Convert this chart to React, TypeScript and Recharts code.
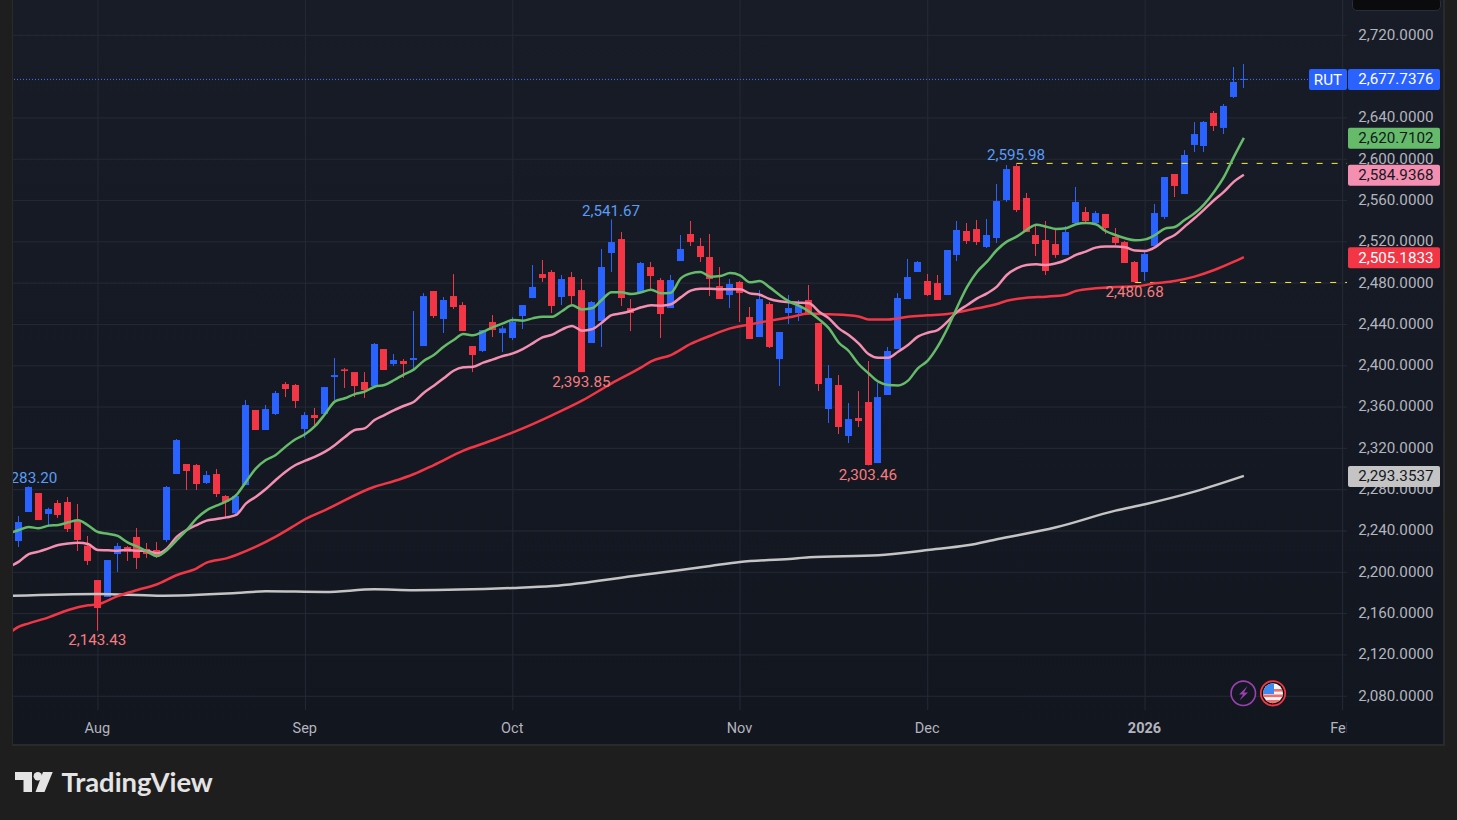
import React from "react";
import {
  ComposedChart, Bar, Line, XAxis, YAxis, CartesianGrid, ReferenceLine, ReferenceDot,
} from "recharts";

const highs = [2254.5,2283.2,2276.8,2262.6,2270,2272.9,2266.1,2235.2,2192.5,2211.9,2228.4,2225.5,2242.9,2228.4,2229.3,2283.6,2329.1,2304.9,2304.9,2298.1,2300,2274.8,2275.8,2366.9,2357.2,2362,2375.6,2384.3,2382.3,2355.2,2359.1,2379.4,
2407.5,2397.8,2393.9,2393.9,2422,2416.2,2411.4,2406.5,2453,2470.4,2472.4,2466.6,2488.8,2461.7,2419.1,2434.6,2449.1,2438.5,2447.2,2458.8,2497.6,2502.4,2492.7,2487.9,2490.8,2484,2462.7,2513.1,2541.67,2529.5,
2464.6,2500.5,2500.5,2485,2487.9,2526.6,2540.2,2523.7,2527.6,2495.6,2484,2482.1,2456.9,2473.3,2461.7,2432.7,2468.5,2463.7,2478.2,2441.4,2400.7,2391,2363.9,2375.5,2404.6,2383.3,2418.2,2470.4,2503.4,2501.4,
2488.9,2487.9,2512.1,2540.2,2538.2,2541.1,2542.1,2576,2594.4,2595.98,2567.3,2536.3,2540.2,2531.5,2535.3,2573.1,2553.7,2549.9,2547,2533.4,2520.8,2501.4,2510.2,2556.6,2582.8,2585.7,2608.9,2636,2637,2646.7,2653.5,2689.3,2692.2];
const lows = [2224.5,2258.4,2250.6,2243.9,2252.6,2239,2220.6,2207.1,2143.43,2176.1,2200.3,2211,2203.2,2213.9,2213.9,2229.3,2295.2,2279.7,2279.7,2285.5,2272.9,2252.6,2254.5,2284.5,2337.8,2337.8,2352.3,2369.7,2359.1,2330,2340.7,2353.3,
2366.8,2378.5,2369.7,2368.8,2380.4,2395.9,2399.8,2388.1,2395.9,2419.1,2446.2,2431.7,2455,2433.6,2393.9,2413.3,2427.8,2413.3,2424.9,2435.6,2465.6,2481.1,2451.1,2458.8,2459.8,2393.85,2422,2418.2,2490.8,2457.9,
2433.6,2470.4,2474.3,2426.9,2455.9,2501.4,2516,2500.5,2467.5,2464.6,2455.9,2442.4,2425.9,2427.8,2417.2,2380.4,2440.4,2443.3,2449.1,2375.5,2344.6,2333.9,2325.2,2340.7,2303.46,2305.8,2371.7,2416.2,2464.6,2490.8,
2467.6,2463.7,2468.5,2501.4,2517.9,2516.9,2514,2518.9,2558.6,2548.9,2529.5,2506.3,2487.9,2504.4,2507.3,2538.2,2538.2,2538.2,2527.6,2516.9,2499.5,2480.68,2482.1,2516,2542.1,2563.4,2566.3,2607,2607,2627.3,2624.4,2659.3,2669];
const opens = [2230.3,2258.4,2276.8,2256.5,2267.1,2268.1,2249.7,2225.8,2192.5,2176.1,2217.7,2224.5,2234.2,2222.6,2221.6,2231.3,2295.2,2304.9,2303.9,2286.5,2295.2,2273.9,2257.1,2284.5,2357.2,2337.8,2353.3,2382.3,2381.4,2338.8,2352.3,2353.3,
2389.1,2396.5,2393.9,2384.3,2380.4,2416.2,2401.7,2404.6,2405.6,2419.1,2472.4,2445.3,2467.5,2458.8,2419.1,2414.3,2442.4,2431.7,2426.9,2448.2,2465.6,2488.8,2490.8,2466.6,2485.9,2473.3,2422,2443.3,2509.2,2522.7,
2455.9,2470.4,2495.6,2483,2455.9,2501.4,2527.6,2516,2505.3,2477.2,2468.5,2481.1,2447.2,2427.8,2459.8,2406.5,2451.1,2451.1,2463.7,2441.4,2358.1,2381.4,2332,2349.4,2364.9,2305.8,2371.7,2416.2,2464.6,2490.8,
2482.1,2480.1,2468.5,2507.3,2530.5,2532.4,2515,2523.7,2560.5,2593.4,2562.5,2526.6,2521.8,2517.9,2507.3,2538.2,2548.9,2538.2,2547,2524.7,2519.8,2500.5,2490.8,2516,2544.1,2585.7,2566.3,2613.8,2612.8,2644.8,2630.3,2660.3,2677.3];
const closes = [2248.7,2282.6,2250.6,2261.3,2255.5,2241.9,2231.3,2211,2165.4,2211.9,2225.5,2220,2213.9,2217.7,2215.8,2282.6,2328.1,2298.1,2285.5,2294.2,2275.8,2268.1,2273.9,2362,2337.8,2358.1,2373.6,2377.5,2365.9,2352.3,2349.4,2379.4,
2391,2394.9,2380.4,2376.5,2421.1,2395.9,2405.6,2401.7,2407.5,2467.5,2448.2,2463.7,2456.9,2433.6,2410.4,2434.6,2434.6,2436.2,2442.4,2458.8,2476.3,2485,2457.9,2484,2467.5,2393.85,2461.7,2495.6,2519.8,2465.6,
2451.1,2499.5,2486.9,2450.1,2483,2513.1,2519.8,2505.3,2484,2464.6,2479.2,2470.4,2425.9,2464.6,2418.2,2432.7,2455.9,2457.9,2450.1,2382.3,2388.1,2340.7,2348.4,2346.5,2303.9,2369.7,2414.3,2465.6,2485.9,2500.5,
2468.5,2463.7,2512.1,2531.5,2520.8,2519.8,2526.6,2559.5,2590.5,2550.8,2529.5,2517.9,2491.8,2507.3,2529.5,2558.6,2540.2,2547.9,2533.4,2518.9,2499.5,2481.1,2508.2,2547.9,2582.8,2574.1,2604.1,2624.4,2636.1,2632.2,2651.6,2674.8,2677.74];

// moving averages as [bar index, value]
const green = [[-1,2237.7],[0,2241],[1,2243.9],[2,2242.6],[3,2245.2],[4,2245.9],[5,2248.4],[6,2250.3],[7,2245.5],[8,2239],[9,2237.4],[10,2235.2],[11,2229],[12,2224.8],[13,2220],[14,2215.8],[15,2221.6],[16,2231.3],[17,2241],[18,2252.2],[19,2260],[20,2264.5],[21,2268.7],[22,2274.8],[23,2287.8],[24,2300.7],[25,2308.7],[26,2313.6],[27,2321.7],[28,2328.8],[29,2333.9],[30,2341.7],[31,2353.3],
[32,2365.5],[33,2368.5],[34,2372.6],[35,2374.9],[36,2379.7],[37,2381.4],[38,2386.2],[39,2391.7],[40,2396.5],[41,2404.9],[42,2410.4],[43,2418.5],[44,2424.9],[45,2430.7],[46,2429.5],[47,2433],[48,2437.5],[49,2441.1],[50,2444.3],[51,2443.7],[52,2445.9],[53,2447.5],[54,2447.5],[55,2453],[56,2458.5],[57,2454.6],[58,2455.6],[59,2463.7],[60,2471.1],[61,2471.1],
[62,2469.5],[63,2471.1],[64,2473.7],[65,2470.1],[66,2470.8],[67,2484.6],[68,2489.5],[69,2490.8],[70,2486.3],[71,2486.9],[72,2489.8],[73,2487.6],[74,2480.8],[75,2482.1],[76,2475.9],[77,2468.5],[78,2462.1],[79,2457.9],[80,2452.4],[81,2444.9],[82,2436.2],[83,2422.3],[84,2414.3],[85,2401.7],[86,2392.7],[87,2384.6],[88,2381.4],[89,2381],[90,2385.6],[91,2397.5],[92,2405],
[93,2418.5],[94,2436.3],[95,2457.2],[96,2476.6],[97,2491.1],[98,2500.8],[99,2512.1],[100,2520.2],[101,2525],[102,2531.5],[103,2536.6],[104,2534.7],[105,2532.4],[106,2533.1],[107,2537],[108,2538.2],[109,2537],[110,2530.5],[111,2526.6],[112,2523.4],[113,2521.5],[114,2522.4],[115,2526.6],[116,2532.8],[117,2534.4],[118,2541.1],[119,2547.6],[120,2556.6],[121,2568.6],[122,2583.1],[123,2602.5],[124,2620.71]];
const pink = [[-1,2205.5],[0,2210.3],[1,2217.7],[2,2220],[3,2223.2],[4,2226.4],[5,2228],[6,2228.7],[7,2227.4],[8,2221.6],[9,2221.3],[10,2220.9],[11,2221.6],[12,2220.9],[13,2220.6],[14,2218.4],[15,2223.2],[16,2234.5],[17,2241],[18,2245.8],[19,2250],[20,2251.6],[21,2253.2],[22,2255.5],[23,2266.8],[24,2273.2],[25,2280.6],[26,2289.4],[27,2297.4],[28,2303.9],[29,2308.1],[30,2312],[31,2316.8],
[32,2323.3],[33,2331],[34,2337.8],[35,2339.4],[36,2347.5],[37,2352.3],[38,2357.1],[39,2361.3],[40,2365.2],[41,2373.9],[42,2380.7],[43,2387.8],[44,2395.2],[45,2398.5],[46,2399.1],[47,2403],[48,2406.2],[49,2409.4],[50,2412],[51,2416.2],[52,2421.7],[53,2427.5],[54,2430.1],[55,2435.3],[56,2438.5],[57,2434],[58,2435.3],[59,2441.7],[60,2449.1],[61,2450.8],
[62,2453.3],[63,2456.6],[64,2458.5],[65,2458.2],[66,2459.5],[67,2466.2],[68,2472.7],[69,2474.6],[70,2474.6],[71,2474],[72,2474],[73,2474],[74,2470.1],[75,2468.8],[76,2464.6],[77,2462.4],[78,2461.4],[79,2461.1],[80,2460.5],[81,2452.4],[82,2445.9],[83,2436.2],[84,2429.8],[85,2421.7],[86,2411.4],[87,2407.8],[88,2407.8],[89,2413.6],[90,2420.1],[91,2428.2],[92,2432],
[93,2434.6],[94,2442.7],[95,2452.4],[96,2458.8],[97,2465.3],[98,2470.1],[99,2476.6],[100,2487.9],[101,2494.3],[102,2497.6],[103,2498.2],[104,2497.6],[105,2499.2],[106,2502.4],[107,2507.3],[108,2510.5],[109,2514.4],[110,2515.6],[111,2515.6],[112,2514.7],[113,2511.5],[114,2511.1],[115,2514.7],[116,2521.8],[117,2526.6],[118,2534.7],[119,2542.8],[120,2551.5],[121,2560.5],[122,2568.6],[123,2578.3],[124,2584.94]];
const red = [[-1,2140.9],[0,2147.4],[1,2150.6],[3,2156.4],[5,2163.5],[7,2168],[8,2169],[10,2177],[12,2182.9],[14,2188.4],[16,2197.4],[18,2203.9],[19,2209.3],[21,2213.5],[22,2216.8],[24,2224.8],[26,2234.5],[28,2245.8],[29,2251.6],[31,2260.3],
[36,2282.9],[38,2288.4],[40,2295.2],[42,2303.9],[45,2317.8],[48,2328.1],[51,2339.4],[54,2352.3],[57,2366.2],[60,2383],[63,2398.5],[64,2404.3],[66,2410.4],[68,2421.1],[70,2429.1],[72,2436.2],[74,2440.1],[76,2443.7],[78,2446.9],[80,2450.5],[82,2449.8],[85,2447.8],[86,2444.9],[88,2444.9],[90,2447.5],
[92,2448.8],[94,2450.1],[95,2451.7],[97,2455.6],[99,2459.8],[100,2463],[102,2465.9],[104,2466.9],[106,2468.8],[107,2472.4],[109,2475],[111,2476.3],[113,2476.9],[115,2479.8],[117,2482.1],[119,2486.3],[121,2492.7],[123,2500.8],[124,2505.18]];
const white = [[-1,2177.1],[8,2179],[14,2177.4],[22,2180],[25,2181.6],[31,2181],[36,2183.5],[40,2182.6],[50,2184.8],[54,2186.7],[63,2197.4],[67,2202.2],[70,2206.1],[73,2210],[78,2212.9],[80,2214.5],[87,2216.5],[92,2221.6],[96,2226.1],[99,2232],[105,2243.6],[111,2259.7],[114,2265.9],[119,2278.1],[124,2293.35]];

const monthTicks = [8, 29, 50, 73, 92, 114, 134];
const monthLabels = ["Aug", "Sep", "Oct", "Nov", "Dec", "2026", "Feb"];
const priceTicks = [2720,2640,2600,2560,2520,2480,2440,2400,2360,2320,2280,2240,2200,2160,2120,2080];
const lastPrice = 2677.7376;
const lastPriceGuide = 2677.3;
const tags = [
  { value: 2293.3537, text: "2,293.3537", fill: "#c4c4c4", color: "#131722" },
  { value: 2505.1833, text: "2,505.1833", fill: "#f23645", color: "#ffffff" },
  { value: 2584.9368, text: "2,584.9368", fill: "#f48fb1", color: "#131722" },
  { value: 2620.7102, text: "2,620.7102", fill: "#66bb6a", color: "#131722" },
  { value: lastPrice, text: "2,677.7376", fill: "#2962ff", color: "#ffffff" },
];
const extremes = [
  { i: 1, v: 2283.2, text: "2,283.20", up: true },
  { i: 8, v: 2143.43, text: "2,143.43", up: false },
  { i: 57, v: 2393.85, text: "2,393.85", up: false },
  { i: 60, v: 2541.67, text: "2,541.67", up: true },
  { i: 86, v: 2303.46, text: "2,303.46", up: false },
  { i: 101, v: 2595.98, text: "2,595.98", up: true },
  { i: 113, v: 2480.68, text: "2,480.68", up: false },
];

const UP = "#2962ff";
const DOWN = "#f23645";
const FONT = "Roboto, sans-serif";

const rows: any[] = [];
const indexOf = (s: number[][], i: number) => {
  const p = s.find((e) => e[0] === i);
  return p ? p[1] : null;
};
for (let i = -1; i < highs.length; i++) {
  rows.push({
    i,
    range: i >= 0 ? [lows[i], highs[i]] : null,
    o: opens[i], c: closes[i],
    green: indexOf(green, i), pink: indexOf(pink, i), red: indexOf(red, i), white: indexOf(white, i),
  });
}

const Candle = (p: any) => {
  const { x, y, width, height, payload } = p;
  if (!payload || !payload.range) return null;
  const [lo, hi] = payload.range;
  const top = Math.min(y, y + height);
  const h = Math.abs(height);
  const k = h / (hi - lo);
  const up = payload.c >= payload.o;
  const col = up ? UP : DOWN;
  const cx = Math.floor(x + width / 2) + 0.5;
  const bt = top + (hi - Math.max(payload.o, payload.c)) * k;
  const bb = top + (hi - Math.min(payload.o, payload.c)) * k;
  return (
    <g>
      <line x1={cx} x2={cx} y1={top} y2={top + h} stroke={col} strokeWidth={1} />
      <rect x={cx - 3.5} y={bt} width={7} height={Math.max(bb - bt, 1)} fill={col} />
    </g>
  );
};

const PriceTick = (p: any) => {
  const v = p.payload.value;
  const tag = tags.find((t) => t.value === v);
  const right = 1420.5;
  if (!tag) {
    return (
      <text x={right} y={p.y - 0.6} textAnchor="end" dominantBaseline="central" fontFamily={FONT} fontSize={15.2} fill="#b2b5be">
        {v.toLocaleString("en-US", { minimumFractionDigits: 4 })}
      </text>
    );
  }
  return (
    <g>
      {v === lastPrice && (
        <g>
          <rect x={1296} y={p.y - 10} width={38} height={21} rx={2} fill="#2962ff" />
          <text x={1315} y={p.y + 1} textAnchor="middle" dominantBaseline="central" fontFamily={FONT} fontSize={15.2} fill="#ffffff">RUT</text>
        </g>
      )}
      <rect x={1335} y={p.y - 10} width={92} height={21} rx={2} fill={tag.fill} />
      <text x={right} y={p.y + 0.5} textAnchor="end" dominantBaseline="central" fontFamily={FONT} fontSize={15.2} fill={tag.color}>
        {tag.text}
      </text>
    </g>
  );
};

const MonthTick = (p: any) => {
  const idx = monthTicks.indexOf(p.payload.value);
  const label = monthLabels[idx];
  return (
    <g>
      <clipPath id={"mc" + idx}><rect x={0} y={700} width={1333.5} height={44} /></clipPath>
      <text x={p.x - 0.6} y={728} textAnchor="middle" dominantBaseline="central" fontFamily={FONT} fontSize={14.5}
        fontWeight={label === "2026" ? 700 : 400} fill="#b2b5be" clipPath={`url(#mc${idx})`}>
        {label}
      </text>
    </g>
  );
};

const ExtremeLabel = (e: any) => (p: any) => (
  <text x={p.cx - 0.6} y={p.cy + (e.up ? -8 : 9.5)} textAnchor="middle" dominantBaseline="central"
    fontFamily={FONT} fontSize={15.2} fill={e.up ? "#5b9cf6" : "#f77c80"}>
    {e.text}
  </text>
);

export default function App() {
  return (
    <div style={{ position: "absolute", left: 0, top: 0, width: 1457, height: 820, background: "#1e1e1e", overflow: "hidden" }}>
      <div style={{ position: "absolute", left: 12, top: 0, width: 1433, height: 746, background: "#2a2a2a" }} />
      <div style={{ position: "absolute", left: 13, top: 0, width: 1430, height: 744, background: "linear-gradient(#181c27, #12161f)" }}>
        <ComposedChart width={1430} height={744} data={rows} margin={{ top: 0, right: 0, bottom: 0, left: 0 }}>
          <CartesianGrid stroke="#262a35" strokeWidth={1} horizontalValues={priceTicks} verticalValues={monthTicks} />
          <XAxis dataKey="i" type="number" domain={[-0.596, 134.44]} allowDataOverflow ticks={monthTicks} interval={0}
            height={34} axisLine={false} tickLine={false} tick={<MonthTick />} />
          <YAxis orientation="right" type="number" domain={[2066.67, 2754.18]} allowDataOverflow
            ticks={[...priceTicks, ...tags.map((t) => t.value)]} interval={0} width={96}
            axisLine={false} tickLine={false} tick={<PriceTick />} />
          <ReferenceLine y={lastPriceGuide} stroke="#3f76ff" strokeWidth={1} strokeDasharray="1 2" />
          <ReferenceLine segment={[{ x: 101, y: 2595.98 }, { x: 134.44, y: 2595.98 }]} stroke="#ffeb3b" strokeWidth={1} strokeDasharray="6 9" />
          <ReferenceLine segment={[{ x: 113, y: 2480.68 }, { x: 134.44, y: 2480.68 }]} stroke="#ffeb3b" strokeWidth={1} strokeDasharray="6 9" />
          <Line dataKey="white" stroke="#c4c4c4" strokeWidth={2.5} type="monotone" dot={false} activeDot={false} connectNulls isAnimationActive={false} />
          <Line dataKey="red" stroke="#f23645" strokeWidth={2.5} type="monotone" dot={false} activeDot={false} connectNulls isAnimationActive={false} />
          <Line dataKey="pink" stroke="#f48fb1" strokeWidth={2.5} type="monotone" dot={false} activeDot={false} connectNulls isAnimationActive={false} />
          <Line dataKey="green" stroke="#66bb6a" strokeWidth={2.5} type="monotone" dot={false} activeDot={false} connectNulls isAnimationActive={false} />
          <Bar dataKey="range" barSize={7} shape={<Candle />} isAnimationActive={false} />
          {extremes.map((e) => (
            <ReferenceDot key={e.i} x={e.i} y={e.v} r={0} shape={ExtremeLabel(e)} />
          ))}
        </ComposedChart>
      </div>
      <div style={{ position: "absolute", left: 1352, top: -3, width: 87, height: 12, background: "#0b0b0d", border: "1px solid #2a2e39", borderRadius: 5 }} />
      <svg style={{ position: "absolute", left: 0, top: 0, pointerEvents: "none" }} width={1457} height={820}>
        <defs>
          <clipPath id="flagClip"><circle cx={1273} cy={693.3} r={10} /></clipPath>
        </defs>
        <circle cx={1243.3} cy={693.3} r={12.2} fill="#131722" stroke="#9c3fb0" strokeWidth={1.6} />
        <path d="M1247.5 686 L1239 694.5 L1243 694.5 L1239.5 700.5 L1248 692.5 L1244 692.5 Z" fill="#9c3fb0" />
        <circle cx={1273} cy={693.3} r={12.2} fill="#0e0e10" stroke="#f23645" strokeWidth={1.8} />
        <g clipPath="url(#flagClip)">
          <rect x={1262} y={683} width={22} height={21} fill="#f5f5f5" />
          <rect x={1262} y={689} width={22} height={2.6} fill="#f26d6d" />
          <rect x={1262} y={694.5} width={22} height={2.6} fill="#f26d6d" />
          <rect x={1262} y={700} width={22} height={4} fill="#f26d6d" />
          <rect x={1262} y={683} width={12} height={11} fill="#3d8bf2" />
        </g>
        <path d="M15 772 H32 V792 H23.5 V780 H15 Z" fill="#e4e4e4" />
        <circle cx={37.8} cy={776.2} r={4.2} fill="#e4e4e4" />
        <path d="M43 772 H52.7 L44.5 792 H35.5 Z" fill="#e4e4e4" />
        <text x={61.5} y={781} dominantBaseline="central" fontFamily="Lato, sans-serif" fontWeight={700} fontSize={27.4} fill="#e4e4e4">TradingView</text>
      </svg>
    </div>
  );
}
